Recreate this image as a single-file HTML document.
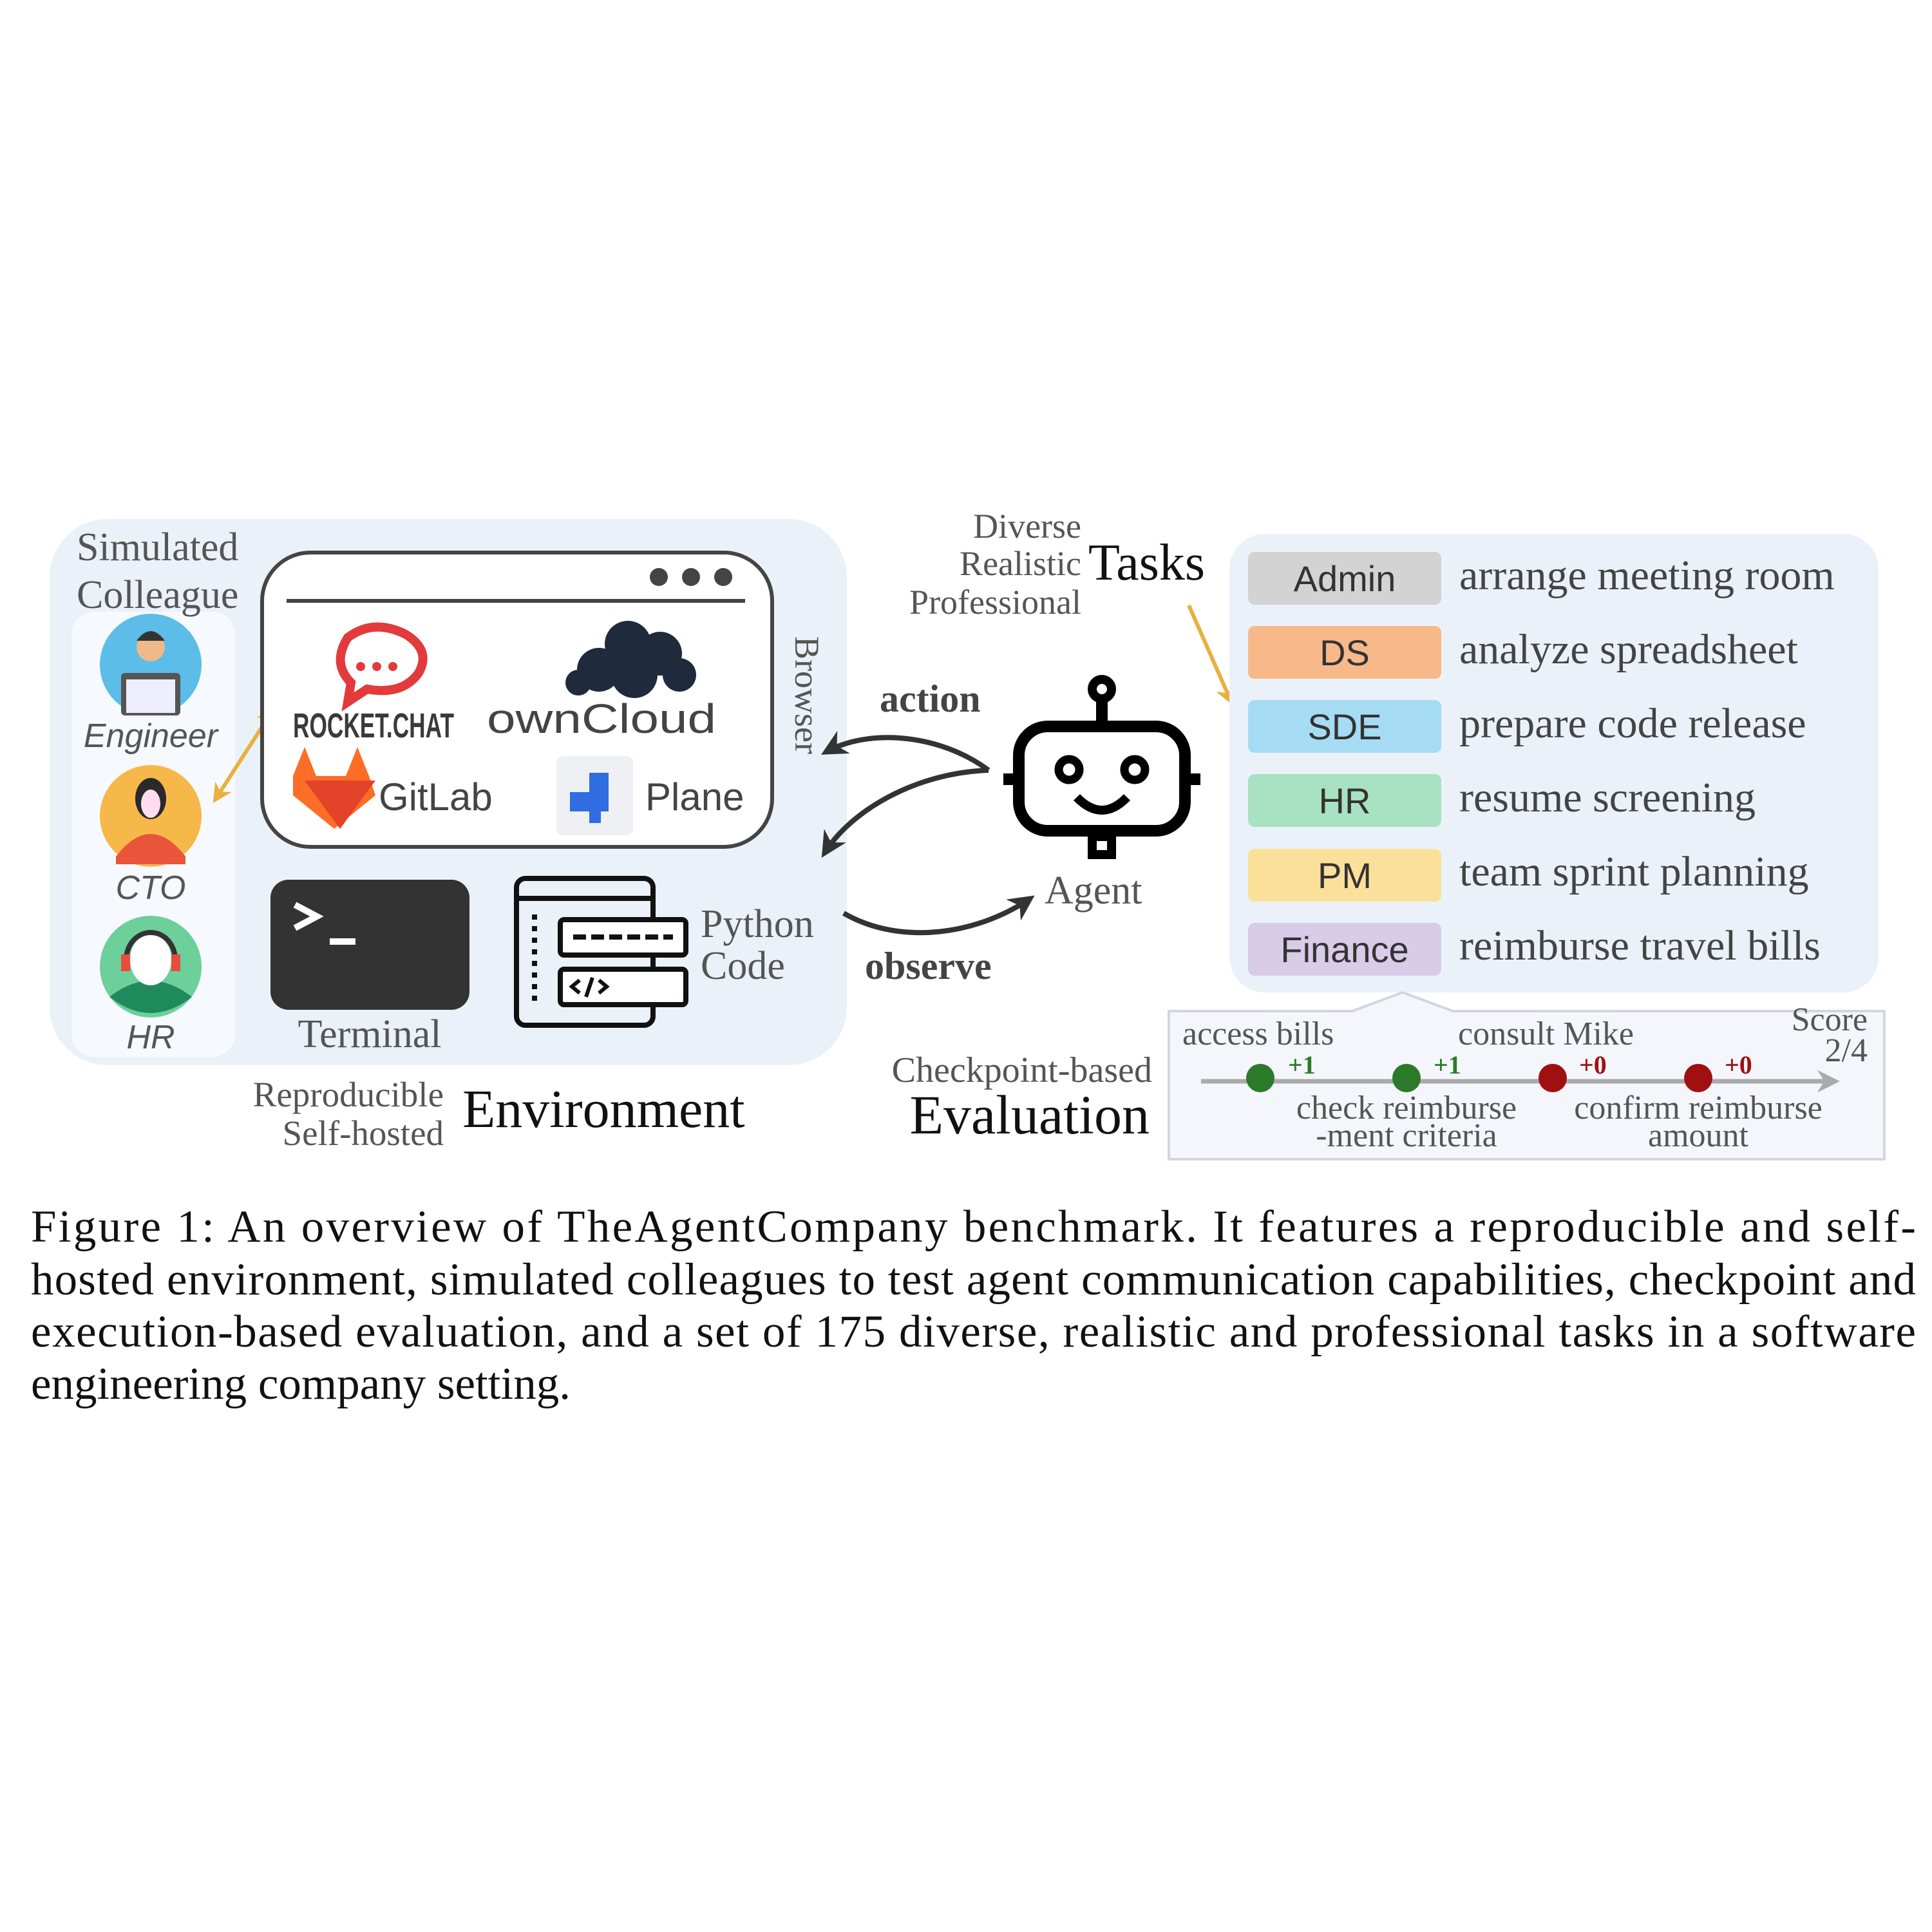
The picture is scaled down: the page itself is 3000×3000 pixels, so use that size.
<!DOCTYPE html>
<html><head><meta charset="utf-8"><style>
html,body{margin:0;padding:0;background:#fff;}
svg{display:block;}
.s{font-family:"Liberation Serif",serif;}
.a{font-family:"Liberation Sans",sans-serif;}
</style></head><body>
<svg width="3000" height="3000" viewBox="0 0 3000 3000" xmlns="http://www.w3.org/2000/svg">
<defs>
<marker id="ah" viewBox="0 0 10 10" refX="8" refY="5" markerWidth="5" markerHeight="5" orient="auto-start-reverse"><path d="M0,0 L10,5 L0,10 L3,5 z" fill="#333"/></marker>
<marker id="oh" viewBox="0 0 10 10" refX="8" refY="5" markerWidth="5" markerHeight="5" orient="auto-start-reverse"><path d="M0,0 L10,5 L0,10 L3,5 z" fill="#e8b040"/></marker>
<marker id="gh" viewBox="0 0 10 10" refX="8" refY="5" markerWidth="5" markerHeight="5" orient="auto"><path d="M0,0 L10,5 L0,10 L3,5 z" fill="#aaa"/></marker>
</defs>
<rect width="3000" height="3000" fill="#fff"/>
<rect x="77" y="806" width="1238" height="848" rx="90" fill="#ebf1f9"/>
<rect x="111" y="950" width="254" height="691" rx="35" fill="#f6f9fd"/>
<text class="s" x="119" y="870" font-size="62" fill="#555">Simulated</text>
<text class="s" x="119" y="944" font-size="62" fill="#555">Colleague</text>
<circle cx="234" cy="1032" r="79" fill="#5bbde8"/>
<rect x="188" y="1045" width="92" height="66" rx="6" fill="#555"/>
<rect x="196" y="1055" width="76" height="52" fill="#eef"/>
<circle cx="234" cy="1005" r="22" fill="#f0b98a"/>
<path d="M212,995 q22,-30 44,0 z" fill="#333"/>
<text class="a" x="234" y="1160" font-size="52" font-style="italic" fill="#555" text-anchor="middle">Engineer</text>
<circle cx="234" cy="1267" r="79" fill="#f7b84a"/>
<path d="M180,1330 q54,-70 108,0 l0,12 l-108,0 z" fill="#e9553a"/>
<ellipse cx="234" cy="1240" rx="24" ry="32" fill="#2a2a2a"/>
<ellipse cx="234" cy="1248" rx="15" ry="22" fill="#fde"/>
<text class="a" x="234" y="1396" font-size="52" font-style="italic" fill="#555" text-anchor="middle">CTO</text>
<circle cx="234" cy="1501" r="79" fill="#6dcf9a"/>
<path d="M170,1548 q64,-50 128,0 q-64,50 -128,0" fill="#1f8a5c"/>
<ellipse cx="234" cy="1490" rx="32" ry="40" fill="#fff"/>
<path d="M196,1490 a38,42 0 0 1 76,0" stroke="#333" stroke-width="8" fill="none"/>
<rect x="188" y="1482" width="14" height="26" fill="#e74c3c"/><rect x="266" y="1482" width="14" height="26" fill="#e74c3c"/>
<text class="a" x="234" y="1628" font-size="52" font-style="italic" fill="#555" text-anchor="middle">HR</text>
<line x1="334" y1="1242" x2="424" y2="1102" stroke="#e8b040" stroke-width="6" marker-start="url(#oh)" marker-end="url(#oh)"/>
<rect x="407" y="858" width="792" height="457" rx="75" fill="#fff" stroke="#444" stroke-width="6"/>
<line x1="445" y1="933" x2="1157" y2="933" stroke="#444" stroke-width="6"/>
<circle cx="1023" cy="896" r="14" fill="#444"/><circle cx="1073" cy="896" r="14" fill="#444"/><circle cx="1123" cy="896" r="14" fill="#444"/>
<path d="M540,990 q40,-30 90,-5 q40,25 20,60 q-25,35 -80,25 l-30,20 l5,-30 q-30,-30 -5,-70z" fill="none" stroke="#e33b3b" stroke-width="14"/>
<circle cx="560" cy="1035" r="7" fill="#e33b3b"/><circle cx="585" cy="1035" r="7" fill="#e33b3b"/><circle cx="610" cy="1035" r="7" fill="#e33b3b"/>
<text class="a" x="455" y="1145" font-size="54" font-weight="bold" fill="#3a3a3a" textLength="250" lengthAdjust="spacingAndGlyphs">ROCKET.CHAT</text>
<g fill="#1f2a3c"><circle cx="930" cy="1040" r="34"/><circle cx="975" cy="1000" r="36"/><circle cx="1025" cy="1015" r="34"/><circle cx="985" cy="1048" r="36"/><circle cx="1055" cy="1048" r="26"/><circle cx="898" cy="1060" r="20"/></g>
<text class="a" x="756" y="1138" font-size="64" fill="#444" textLength="356" lengthAdjust="spacingAndGlyphs">ownCloud</text>
<path d="M455,1205 l18,-45 l18,45 l46,0 l18,-45 l18,45 l10,30 l-64,52 l-64,-52z" fill="#fc6d26"/>
<path d="M473,1212 l55,75 l55,-75z" fill="#e24329"/>
<text class="a" x="588" y="1258" font-size="60" fill="#444">GitLab</text>
<rect x="864" y="1174" width="119" height="123" rx="10" fill="#eef0f3"/>
<rect x="915" y="1200" width="30" height="30" fill="#2f6de1"/><rect x="885" y="1230" width="30" height="30" fill="#2f6de1"/><rect x="915" y="1230" width="30" height="30" fill="#2f6de1"/><rect x="915" y="1260" width="18" height="18" fill="#2f6de1"/>
<text class="a" x="1002" y="1258" font-size="60" fill="#444">Plane</text>
<text class="s" x="0" y="0" font-size="54" fill="#555" transform="translate(1235,988) rotate(90)">Browser</text>
<rect x="420" y="1366" width="309" height="202" rx="28" fill="#333"/>
<path d="M458,1405 l34,18 l-34,18" stroke="#fff" stroke-width="10" fill="none"/>
<rect x="512" y="1457" width="40" height="10" fill="#fff"/>
<text class="s" x="574" y="1626" font-size="62" fill="#555" text-anchor="middle">Terminal</text>
<g fill="none" stroke="#111" stroke-width="8">
<rect x="802" y="1364" width="212" height="228" rx="14"/>
<line x1="802" y1="1395" x2="1014" y2="1395"/>
<rect x="870" y="1428" width="195" height="55" rx="6" fill="#fff"/>
<rect x="870" y="1505" width="195" height="55" rx="6" fill="#fff"/>
<line x1="830" y1="1420" x2="830" y2="1560" stroke-dasharray="8 10"/>
<line x1="890" y1="1455" x2="1045" y2="1455" stroke-dasharray="20 8"/>
<path d="M900,1522 l-12,10 l12,10 M930,1522 l12,10 l-12,10 M920,1518 l-10,30" stroke-width="6"/>
</g>
<text class="s" x="1088" y="1455" font-size="62" fill="#555">Python</text>
<text class="s" x="1088" y="1520" font-size="62" fill="#555">Code</text>
<text class="s" x="689" y="1718" font-size="55" fill="#555" text-anchor="end">Reproducible</text>
<text class="s" x="689" y="1778" font-size="55" fill="#555" text-anchor="end">Self-hosted</text>
<text class="s" x="718" y="1750" font-size="84" fill="#111">Environment</text>
<text class="s" x="1366" y="1105" font-size="60" font-weight="bold" fill="#444">action</text>
<path d="M1535,1196 C1460,1140 1350,1130 1282,1168" stroke="#333" stroke-width="8" fill="none" marker-end="url(#ah)"/>
<path d="M1535,1196 C1420,1200 1320,1260 1280,1325" stroke="#333" stroke-width="8" fill="none" marker-end="url(#ah)"/>
<path d="M1310,1418 C1400,1470 1520,1450 1600,1395" stroke="#333" stroke-width="8" fill="none" marker-end="url(#ah)"/>
<text class="s" x="1343" y="1520" font-size="60" font-weight="bold" fill="#444">observe</text>
<g stroke="#000" stroke-width="18" fill="none">
<rect x="1582" y="1128" width="258" height="162" rx="45"/>
<line x1="1711" y1="1128" x2="1711" y2="1085"/>
<circle cx="1711" cy="1070" r="15" stroke-width="14"/>
<line x1="1558" y1="1210" x2="1582" y2="1210"/><line x1="1840" y1="1210" x2="1864" y2="1210"/>
<circle cx="1660" cy="1195" r="16" stroke-width="13"/><circle cx="1762" cy="1195" r="16" stroke-width="13"/>
<path d="M1672,1238 q39,40 78,0" stroke-width="14"/>
<rect x="1696" y="1299" width="30" height="28" stroke-width="14"/>
</g>
<text class="s" x="1622" y="1403" font-size="62" fill="#555">Agent</text>
<text class="s" x="1679" y="835" font-size="54" fill="#555" text-anchor="end">Diverse</text>
<text class="s" x="1679" y="893" font-size="54" fill="#555" text-anchor="end">Realistic</text>
<text class="s" x="1679" y="953" font-size="54" fill="#555" text-anchor="end">Professional</text>
<text class="s" x="1690" y="900" font-size="80" fill="#111">Tasks</text>
<line x1="1846" y1="940" x2="1912" y2="1090" stroke="#e8b040" stroke-width="6" marker-end="url(#oh)"/>
<rect x="1909" y="829" width="1008" height="712" rx="55" fill="#ebf1f9"/>
<g class="a" font-size="56" fill="#333" text-anchor="middle">
<rect x="1938" y="857" width="300" height="82" rx="10" fill="#d3d3d3"/><text x="2088" y="918">Admin</text>
<rect x="1938" y="972" width="300" height="82" rx="10" fill="#f8b98a"/><text x="2088" y="1033">DS</text>
<rect x="1938" y="1087" width="300" height="82" rx="10" fill="#a6dcf3"/><text x="2088" y="1148">SDE</text>
<rect x="1938" y="1202" width="300" height="82" rx="10" fill="#a8e2c2"/><text x="2088" y="1263">HR</text>
<rect x="1938" y="1318" width="300" height="82" rx="10" fill="#fbe09a"/><text x="2088" y="1379">PM</text>
<rect x="1938" y="1433" width="300" height="82" rx="10" fill="#d8cce8"/><text x="2088" y="1494">Finance</text>
</g>
<g class="s" font-size="66" fill="#444">
<text x="2266" y="915">arrange meeting room</text>
<text x="2266" y="1030">analyze spreadsheet</text>
<text x="2266" y="1145">prepare code release</text>
<text x="2266" y="1260">resume screening</text>
<text x="2266" y="1375">team sprint planning</text>
<text x="2266" y="1490">reimburse travel bills</text>
</g>
<path d="M1815,1570 L2100,1570 L2178,1541 L2256,1570 L2926,1570 L2926,1800 L1815,1800 Z" fill="#f5f6fb" stroke="#d4d4e4" stroke-width="4"/>
<text class="s" x="1789" y="1680" font-size="56" fill="#555" text-anchor="end">Checkpoint-based</text>
<text class="s" x="1785" y="1760" font-size="86" fill="#111" text-anchor="end">Evaluation</text>
<line x1="1865" y1="1679" x2="2850" y2="1679" stroke="#aaa" stroke-width="7" marker-end="url(#gh)"/>
<circle cx="1957" cy="1674" r="22" fill="#2a7a2a"/><circle cx="2184" cy="1674" r="22" fill="#2a7a2a"/>
<circle cx="2411" cy="1674" r="22" fill="#a01010"/><circle cx="2637" cy="1674" r="22" fill="#a01010"/>
<g class="s" font-size="40" font-weight="bold"><text x="2000" y="1667" fill="#2a7a2a">+1</text><text x="2226" y="1667" fill="#2a7a2a">+1</text><text x="2452" y="1667" fill="#a01010">+0</text><text x="2678" y="1667" fill="#a01010">+0</text></g>
<g class="s" font-size="52" fill="#555">
<text x="1836" y="1622">access bills</text>
<text x="2264" y="1622">consult Mike</text>
<text x="2900" y="1600" text-anchor="end">Score</text>
<text x="2900" y="1648" text-anchor="end">2/4</text>
<text x="2184" y="1737" text-anchor="middle">check reimburse</text>
<text x="2184" y="1780" text-anchor="middle">-ment criteria</text>
<text x="2637" y="1737" text-anchor="middle">confirm reimburse</text>
<text x="2637" y="1780" text-anchor="middle">amount</text>
</g>
<g class="s" font-size="71" fill="#111">
<text x="48" y="1928" textLength="2927" lengthAdjust="spacing">Figure 1:  An overview of TheAgentCompany benchmark.  It features a reproducible and self-</text>
<text x="48" y="2010" textLength="2927" lengthAdjust="spacing">hosted environment, simulated colleagues to test agent communication capabilities, checkpoint and</text>
<text x="48" y="2091" textLength="2927" lengthAdjust="spacing">execution-based evaluation, and a set of 175 diverse, realistic and professional tasks in a software</text>
<text x="48" y="2172">engineering company setting.</text>
</g>
</svg>
</body></html>
